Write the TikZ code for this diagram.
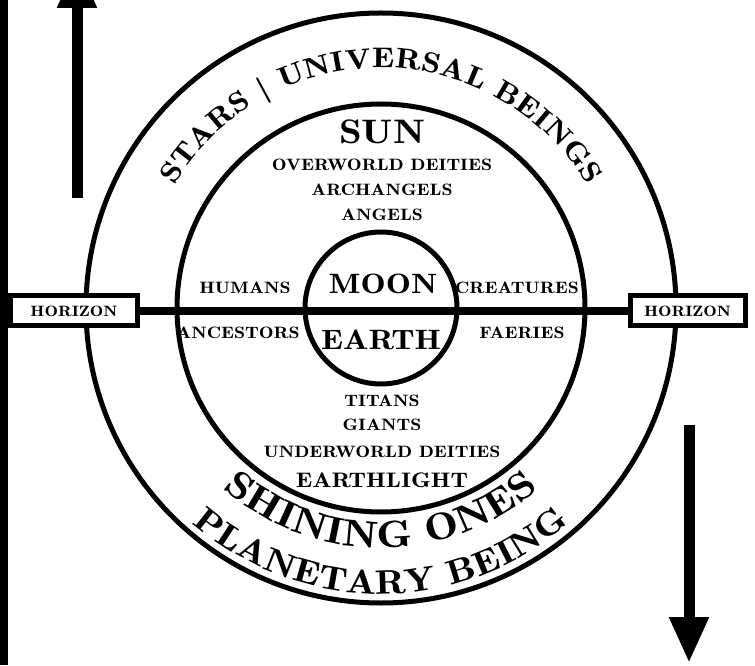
\documentclass[tikz,border=0pt]{standalone}
\usepackage{fontspec}
\setmainfont{lmromandemi10-regular.otf}[FakeStretch=1.2]
\usetikzlibrary{arrows.meta,decorations.text,positioning}

\newcommand{\starfont}{\fontsize{28.5}{30}\selectfont}
\newcommand{\shinefont}{\fontsize{38}{40}\selectfont}
\newcommand{\planetfont}{\fontsize{34}{36}\selectfont}

\begin{document}
\begin{tikzpicture}[x=1pt, y=1pt, node distance=25pt]
    % Styles
    \tikzstyle{orb} = [circle, draw, line width=5pt, inner sep=0pt, outer sep=0pt]
    \tikzstyle{realm} = [inner sep=0pt, font=\fontsize{16.5}{18}\selectfont]
    \tikzstyle{bigname} = [inner sep=0pt, font=\fontsize{28}{30}\selectfont]
    \tikzstyle{horizonbox} = [rectangle, draw, line width=5pt, fill=white,
        minimum height=30pt, inner sep=0pt, font=\fontsize{15}{16}\selectfont]
    \tikzstyle{bigarrow} = [line width=11pt, -{Triangle[length=46pt, width=37pt]}]
    \tikzstyle{ringtext} = [decorate, decoration={text along path,
        text align=center, text format delimiters={<}{>}}]

    \useasboundingbox (0,0) rectangle (755,665);
    \clip (0,0) rectangle (755,665);

    % === FRAME ===
    \coordinate (bar top) at (4,665);
    \coordinate (bar bottom) at (4,0);
    \draw [line width=8pt] (bar top) -- (bar bottom);

    % === RINGS ===
    \coordinate (O) at (381,357);
    \node [orb, minimum size=590pt] (stars) at (O) {};
    \node [orb, minimum size=408pt] (sunring) at (O) {};
    \node [orb, minimum size=152pt] (moonring) at (O) {};

    % === HORIZON ===
    \node [horizonbox, minimum width=127pt] (west) at (74,354) {HORIZON};
    \node [horizonbox, minimum width=115pt] (east) at (687.5,354) {HORIZON};
    \draw [line width=8pt] (west.east) -- (east.west);

    % === ARROWS ===
    \coordinate (rise start) at (77,467);
    \coordinate (rise end) at (77,703);
    \draw [bigarrow] (rise start) -- (rise end);
    \coordinate (fall start) at (689,240);
    \coordinate (fall end) at (689,2);
    \draw [bigarrow] (fall start) -- (fall end);

    % === UPPER HALF ===
    \node [bigname, font=\fontsize{34}{36}\selectfont] (sun) at (382,533) {SUN};
    \node [realm, below of=sun, node distance=33pt] (overworld) {OVERWORLD DEITIES};
    \node [realm, below of=overworld] (archangels) {ARCHANGELS};
    \node [realm, below of=archangels] (angels) {ANGELS};

    % === MIDDLE ===
    \node [bigname] (moon) at (383,381) {MOON};
    \node [bigname] (earth) at (381,325) {EARTH};
    \node [realm] (humans) at (245,377) {HUMANS};
    \node [realm] (creatures) at (517,377) {CREATURES};
    \node [realm] (ancestors) at (238,332) {ANCESTORS};
    \node [realm] (faeries) at (522,332) {FAERIES};

    % === LOWER HALF ===
    \node [realm] (titans) at (382,264) {TITANS};
    \node [realm, below of=titans, node distance=24pt] (giants) {GIANTS};
    \node [realm, below of=giants, node distance=27pt] (underworld) {UNDERWORLD DEITIES};
    \node [bigname, font=\fontsize{21}{22}\selectfont, below of=underworld,
        node distance=28pt] (earthlight) {EARTHLIGHT};

    % === Ring texts ===
    \path [ringtext, shift={(O)}, decoration={text={<\starfont>STARS | UNIVERSAL BEINGS}}]
        (160:240) arc [start angle=160, end angle=20, radius=240];
    \path [ringtext, shift={(O)}, decoration={text={<\shinefont>SHINING ONES}}]
        (200:240) arc [start angle=200, end angle=340, radius=240];
    \path [ringtext, shift={(O)}, decoration={text={<\planetfont>PLANETARY BEING}}]
        (200:286) arc [start angle=200, end angle=340, radius=286];
\end{tikzpicture}
\end{document}
